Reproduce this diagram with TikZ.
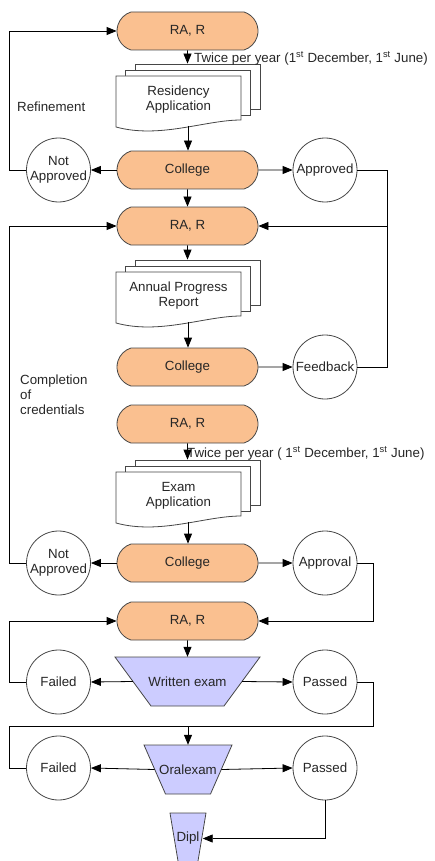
\documentclass[tikz,border=0pt]{standalone}
\usepackage{fontspec}
\setmainfont{Liberation Sans}
\usepackage{tikz}
\definecolor{termfill}{RGB}{250, 192, 144}
\definecolor{examfill}{RGB}{204, 204, 255}
\definecolor{edgegray}{RGB}{70, 70, 70}
\usetikzlibrary{shapes.geometric, shapes.misc, arrows.meta, calc}

% stack of three sheets: name, top of front sheet, text
\newcommand{\docstack}[3]{%
    \begin{scope}[shift={(0,#2)}]
        \node[sheet, minimum width=125, minimum height=45] (#1b) at (197.5,10.5) {};
        \node[sheet, minimum width=125, minimum height=45] (#1m) at (187.5,16.5) {};
        \draw[sheet] (116,0) -- (241,0) -- (241,44)
            .. controls (205,44) and (160,63) .. (116,51) -- cycle;
        \node[align=center] (#1) at (178.5,23.5) {#3};
        \coordinate (#1out) at (188,50);
    \end{scope}}

\begin{document}
\begin{tikzpicture}[
    x=1pt, y=-1pt,
    font=\fontsize{13.3}{15}\selectfont, text=black!85,
    term/.style={rounded rectangle, rounded rectangle arc length=145,
                 draw=edgegray, line width=0.8pt, fill=termfill,
                 minimum width=141, minimum height=38, inner sep=0pt},
    state/.style={circle, draw=edgegray, line width=0.8pt, fill=white,
                  minimum size=64, inner sep=0pt, align=center},
    exam/.style={draw=edgegray, line width=0.8pt, fill=examfill},
    examtext/.style={rectangle, inner sep=0pt},
    sheet/.style={draw=edgegray, line width=0.8pt, fill=white},
    flow/.style={-{Triangle[length=10pt, width=8pt]}, line width=0.8pt}
]
    \useasboundingbox (0,0) rectangle (434,861);
    \clip (0,0) rectangle (434,861);

    % Residency application
    \node[term] (ra1) at (187.5,31) {RA, R};
    \docstack{resapp}{76}{Residency\\Application}
    \node[anchor=west, inner sep=0pt] (twice1) at (194,58)
        {Twice per year (1\textsuperscript{st} December, 1\textsuperscript{st} June)};
    \node[term] (col1) at (187.5,170) {College};
    \node[state] (nap1) at (58.5,170) {Not\\Approved};
    \node[state] (app1) at (325,170) {Approved};
    \node[anchor=west, inner sep=0pt] (refine) at (17,107) {Refinement};

    % Annual progress report
    \node[term] (ra2) at (187.5,226) {RA, R};
    \docstack{progrep}{272}{Annual Progress\\Report}
    \node[term] (col2) at (187.5,367) {College};
    \node[state] (feed) at (325,367) {Feedback};
    \node[anchor=west, align=left, inner sep=0pt] (compl) at (20,395)
        {Completion\\of\\credentials};

    % Exam application
    \node[term] (ra3) at (187.5,424) {RA, R};
    \docstack{examapp}{472}{Exam\\Application}
    \node[anchor=west, inner sep=0pt] (twice2) at (187,453)
        {Twice per year ( 1\textsuperscript{st} December, 1\textsuperscript{st} June)};
    \node[term] (col3) at (187.5,563) {College};
    \node[state] (nap2) at (58.5,563) {Not\\Approved};
    \node[state] (appv) at (325,563) {Approval};

    % Exams
    \node[term] (ra4) at (187.5,621) {RA, R};
    \filldraw[exam] (115,657) -- (260,657) -- (224,706) -- (151,706) -- cycle;
    \node[examtext, minimum width=109, minimum height=49] (wexam) at (187.5,681.5) {Written exam};
    \node[state] (fail1) at (58.5,682) {Failed};
    \node[state] (pass1) at (325,682) {Passed};
    \filldraw[exam] (144,745) -- (232,745) -- (210.5,794) -- (165.5,794) -- cycle;
    \node[examtext, minimum width=66.5, minimum height=49] (oexam) at (188,769.5) {Oralexam};
    \node[state] (fail2) at (58.5,768) {Failed};
    \node[state] (pass2) at (325,768) {Passed};
    \filldraw[exam] (170,813) -- (206,813) -- (197.5,864) -- (178.5,864) -- cycle;
    \node[examtext, minimum width=29, minimum height=51] (dipl) at (188,838.5) {Dipl};
    \coordinate (orjoin) at (188,726);

    % Arrows
    \draw[flow] (ra1) -- (ra1.south |- resappb.north);
    \draw[flow] (resappout) -- (resappout |- col1.north);
    \draw[flow] (col1) -- (nap1);
    \draw[flow] (col1) -- (app1);
    \draw[flow] (col1) -- (ra2);
    \draw[flow] (nap1.west) -- ++(-17,0) |- (ra1.west);
    \draw[flow] (app1.east) -- ++(30,0) |- (ra2.east);
    \draw[line width=0.8pt] (feed.east) -| ($(app1.east)+(30,0)$);
    \draw[flow] (ra2) -- (ra2.south |- progrepb.north);
    \draw[flow] (progrepout) -- (progrepout |- col2.north);
    \draw[flow] (col2) -- (feed);
    \draw[flow] (ra3) -- (ra3.south |- examappb.north);
    \draw[flow] (examappout) -- (examappout |- col3.north);
    \draw[flow] (col3) -- (nap2);
    \draw[flow] (col3) -- (appv);
    \draw[flow] (nap2.west) -- ++(-17,0) |- (ra2.west);
    \draw[flow] (appv.east) -- ++(16,0) |- (ra4.east);
    \draw[flow] (ra4) -- (wexam.north);
    \draw[flow] (fail1.west) -- ++(-17,0) |- (ra4.west);
    \draw[flow] (wexam.west) -- (fail1.east);
    \draw[flow] (wexam.east) -- (pass1.west);
    \draw[line width=0.8pt] (pass1.east) -- ++(16,0) |- (orjoin);
    \draw[line width=0.8pt] (fail2.west) -- ++(-17,0) |- (orjoin);
    \draw[flow] (orjoin) -- (oexam.north);
    \draw[flow] (oexam.west) -- (fail2.east);
    \draw[flow] (oexam.east) -- (pass2.west);
    \draw[flow] (pass2.south) |- (dipl.east);
\end{tikzpicture}
\end{document}
